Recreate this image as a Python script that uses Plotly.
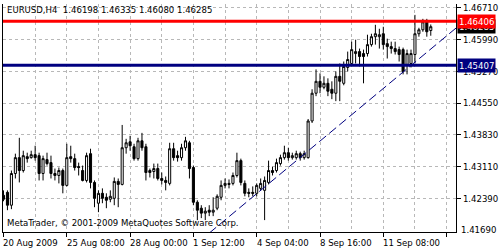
import plotly.graph_objects as go

# ---- data (EURUSD H4) ----
opens = [1.42458, 1.42525, 1.42233, 1.42953, 1.43313, 1.4302, 1.43335, 1.43313, 1.4338, 1.43358,
         1.42953, 1.43268, 1.432, 1.42953, 1.42908, 1.4302, 1.42683, 1.43335, 1.4329, 1.4311,
         1.4302, 1.42795, 1.43403, 1.4275, 1.42278, 1.42503, 1.42413, 1.42368, 1.4239, 1.42773,
         1.42705, 1.43538, 1.43673, 1.4356, 1.4329, 1.43695, 1.4356, 1.4302, 1.42998, 1.43065,
         1.4284, 1.42795, 1.42728, 1.43515, 1.43358, 1.43313, 1.43538, 1.4365, 1.43088, 1.423,
         1.42165, 1.42053, 1.4212, 1.42075, 1.42165, 1.42413, 1.42683, 1.42728, 1.42728, 1.42908,
         1.43245, 1.42728, 1.42525, 1.42525, 1.42503, 1.42615, 1.4257, 1.4275, 1.4302, 1.4302,
         1.43178, 1.43313, 1.43425, 1.43313, 1.43313, 1.43403, 1.43313, 1.43313, 1.44145, 1.44775,
         1.45045, 1.4491, 1.45, 1.44865, 1.44775, 1.45158, 1.45, 1.4536, 1.4545, 1.45675,
         1.4572, 1.45675, 1.45675, 1.45878, 1.46058, 1.46058, 1.46125, 1.459, 1.45833, 1.45788,
         1.45765, 1.45765, 1.45428, 1.4545, 1.45653, 1.46125, 1.46215, 1.46395, 1.46198]
highs = [1.4257, 1.4257, 1.4302, 1.43403, 1.43763, 1.4347, 1.43425, 1.4347, 1.43583, 1.43425,
         1.43358, 1.43425, 1.43358, 1.43065, 1.43088, 1.43065, 1.43628, 1.43583, 1.43403, 1.432,
         1.43133, 1.43425, 1.43515, 1.42795, 1.4257, 1.42615, 1.42503, 1.4257, 1.42863, 1.4284,
         1.44055, 1.4374, 1.43808, 1.43628, 1.43763, 1.43875, 1.43628, 1.43065, 1.43178, 1.43178,
         1.42975, 1.42885, 1.4365, 1.4365, 1.4347, 1.43628, 1.43785, 1.43695, 1.43133, 1.42345,
         1.42233, 1.42188, 1.42233, 1.42413, 1.4248, 1.42795, 1.4284, 1.42818, 1.42975, 1.43425,
         1.4329, 1.42795, 1.42615, 1.4266, 1.42728, 1.4284, 1.42885, 1.43245, 1.4311, 1.4329,
         1.4338, 1.43583, 1.43538, 1.43425, 1.4347, 1.43448, 1.4347, 1.4419, 1.44865, 1.45315,
         1.45225, 1.45158, 1.45113, 1.45045, 1.4527, 1.4545, 1.45495, 1.4572, 1.45945, 1.4599,
         1.45788, 1.45765, 1.46103, 1.46125, 1.46328, 1.46238, 1.46283, 1.46013, 1.45945, 1.45945,
         1.45833, 1.4581, 1.45765, 1.45765, 1.46553, 1.4626, 1.46463, 1.46463, 1.46335]
lows = [1.42323, 1.4212, 1.42143, 1.4284, 1.4275, 1.42975, 1.432, 1.4329, 1.43245, 1.42795,
        1.42795, 1.43133, 1.4284, 1.42795, 1.42728, 1.42503, 1.4266, 1.432, 1.4302, 1.42908,
        1.42773, 1.4275, 1.42615, 1.42188, 1.42075, 1.42278, 1.42165, 1.423, 1.42233, 1.42188,
        1.42683, 1.43403, 1.4347, 1.43245, 1.43245, 1.4347, 1.42795, 1.42863, 1.4284, 1.42795,
        1.42705, 1.4257, 1.42683, 1.43245, 1.43223, 1.43245, 1.4347, 1.4284, 1.42233, 1.41895,
        1.4194, 1.41895, 1.41985, 1.41985, 1.4212, 1.42345, 1.42615, 1.42615, 1.42683, 1.42863,
        1.42683, 1.42435, 1.42413, 1.42435, 1.42435, 1.4257, 1.41895, 1.42705, 1.42908, 1.42975,
        1.43133, 1.43268, 1.43245, 1.43268, 1.43268, 1.43245, 1.43268, 1.4329, 1.441, 1.44708,
        1.44775, 1.44865, 1.44708, 1.4464, 1.44595, 1.44595, 1.44955, 1.4527, 1.45405, 1.4545,
        1.45383, 1.45, 1.45608, 1.45833, 1.45878, 1.45788, 1.45765, 1.45563, 1.45675, 1.45653,
        1.45495, 1.45203, 1.45203, 1.4536, 1.4545, 1.46058, 1.4617, 1.46058, 1.4608]
closes = [1.42368, 1.42233, 1.42953, 1.43313, 1.4302, 1.43358, 1.4329, 1.4338, 1.43313, 1.42953,
          1.4329, 1.43178, 1.42953, 1.42908, 1.4302, 1.42683, 1.43313, 1.4329, 1.43088, 1.43088,
          1.42795, 1.43358, 1.4275, 1.4239, 1.42503, 1.4239, 1.42345, 1.42435, 1.42773, 1.42705,
          1.43538, 1.4365, 1.43583, 1.4329, 1.43695, 1.43538, 1.42975, 1.42975, 1.43065, 1.4284,
          1.42795, 1.4275, 1.43515, 1.43313, 1.43313, 1.43538, 1.43695, 1.43065, 1.423, 1.4212,
          1.42053, 1.42098, 1.42075, 1.4212, 1.42435, 1.42683, 1.42728, 1.42705, 1.42908, 1.43245,
          1.4275, 1.42503, 1.42503, 1.42503, 1.42683, 1.42728, 1.42795, 1.4302, 1.42975, 1.432,
          1.43313, 1.43425, 1.43313, 1.43358, 1.43403, 1.43313, 1.43403, 1.44145, 1.44775, 1.45045,
          1.4491, 1.45, 1.4482, 1.44775, 1.45158, 1.45045, 1.45383, 1.4554, 1.45765, 1.4572,
          1.45608, 1.45608, 1.45878, 1.46058, 1.46125, 1.46103, 1.45878, 1.45833, 1.45788, 1.4572,
          1.45653, 1.4527, 1.45675, 1.45675, 1.46125, 1.46215, 1.46395, 1.4617, 1.46285]
bars = list(range(len(opens)))

date_ticks = [0, 16, 32, 48, 64, 80, 96]
date_labels = ["20 Aug 2009", "25 Aug 08:00", "28 Aug 00:00", "1 Sep 12:00",
               "4 Sep 04:00", "8 Sep 16:00", "11 Sep 08:00"]
price_ticks = [1.46710, 1.45990, 1.45270, 1.44550, 1.43830, 1.43110, 1.42390]
price_min_label = 1.41690

level_red = 1.46406
level_navy = 1.45407
bid_price = 1.46285
trend_x = [52, 115]
trend_y = [1.4160, 1.4630]

title_text = "EURUSD,H4  1.46198 1.46335 1.46080 1.46285"
copyright_text = "MetaTrader, \u00a9 2001-2009 MetaQuotes Software Corp."

FONT = "DejaVu Sans Condensed, DejaVu Sans, Liberation Sans"
FS = 9.5
GRID = "#b8b8b8"

fig = go.Figure()
fig.add_trace(go.Candlestick(
    x=bars, open=opens, high=highs, low=lows, close=closes,
    increasing=dict(line=dict(color="black", width=1), fillcolor="white"),
    decreasing=dict(line=dict(color="black", width=1), fillcolor="black"),
    whiskerwidth=0, hoverinfo="skip", showlegend=False,
))
fig.add_trace(go.Scatter(
    x=trend_x, y=trend_y, mode="lines",
    line=dict(color="#000080", width=1, dash="9px,4px"),
    hoverinfo="skip", showlegend=False,
))

shapes = [
    dict(type="line", xref="paper", x0=0, x1=1, yref="y", y0=level_red, y1=level_red,
         line=dict(color="#ff0000", width=3), layer="above"),
    dict(type="line", xref="paper", x0=0, x1=1, yref="y", y0=level_navy, y1=level_navy,
         line=dict(color="#000080", width=3), layer="above"),
]

annotations = []
for v, t in zip(date_ticks, date_labels):
    annotations.append(dict(x=v, xref="x", y=0, yref="paper", text=t, showarrow=False,
                            xanchor="left", yanchor="top", yshift=-3, xshift=-2,
                            font=dict(family=FONT, size=FS, color="black")))
annotations.append(dict(x=1, xref="paper", y=price_min_label, yref="y", text="%.5f" % price_min_label,
                        showarrow=False, xanchor="left", yanchor="middle", xshift=3,
                        font=dict(family=FONT, size=FS, color="black")))
annotations.append(dict(x=1, xref="paper", y=bid_price, yref="y", text="%.5f" % bid_price,
                        showarrow=False, xanchor="left", yanchor="middle", xshift=1,
                        bgcolor="black", borderpad=1,
                        font=dict(family=FONT, size=FS, color="white")))
annotations.append(dict(x=1, xref="paper", y=level_red, yref="y", text="%.5f" % level_red,
                        showarrow=False, xanchor="left", yanchor="middle", xshift=1,
                        bgcolor="#ff0000", borderpad=1,
                        font=dict(family=FONT, size=FS, color="white")))
annotations.append(dict(x=1, xref="paper", y=level_navy, yref="y", text="%.5f" % level_navy,
                        showarrow=False, xanchor="left", yanchor="middle", xshift=1,
                        bgcolor="#000080", borderpad=1,
                        font=dict(family=FONT, size=FS, color="white")))
annotations.append(dict(x=0, xref="paper", y=1, yref="paper", text=title_text, showarrow=False,
                        xanchor="left", yanchor="top", xshift=2, yshift=2,
                        font=dict(family=FONT, size=FS, color="black")))
annotations.append(dict(x=0, xref="paper", y=0, yref="paper", text=copyright_text, showarrow=False,
                        xanchor="left", yanchor="bottom", xshift=2, yshift=2,
                        font=dict(family=FONT, size=FS, color="black")))

fig.update_layout(
    width=500, height=250,
    margin=dict(l=3, r=39, t=2, b=18),
    paper_bgcolor="white", plot_bgcolor="white",
    showlegend=False, hovermode=False,
    boxgap=0.25,
    shapes=shapes, annotations=annotations,
    xaxis=dict(
        range=[-0.125, 114.375], rangeslider=dict(visible=False),
        tickmode="linear", tick0=0, dtick=16, showticklabels=False,
        ticks="outside", ticklen=4, tickcolor="black",
        showgrid=True, gridcolor=GRID, griddash="3px,3px", gridwidth=1,
        minor=dict(tick0=0, dtick=8, showgrid=True, gridcolor=GRID, griddash="3px,3px", ticks=""),
        showline=True, linecolor="black", linewidth=1, zeroline=False,
        fixedrange=True,
    ),
    yaxis=dict(
        range=[1.41625, 1.46800], side="right",
        tickmode="array", tickvals=price_ticks, tickformat=".5f",
        ticks="outside", ticklen=4, tickcolor="black",
        tickfont=dict(family=FONT, size=FS, color="black"),
        showgrid=True, gridcolor=GRID, griddash="3px,3px", gridwidth=1,
        showline=True, mirror=True, linecolor="black", linewidth=1, zeroline=False,
        fixedrange=True,
    ),
)

fig.write_html("out.html", config={"displayModeBar": False, "staticPlot": True})
